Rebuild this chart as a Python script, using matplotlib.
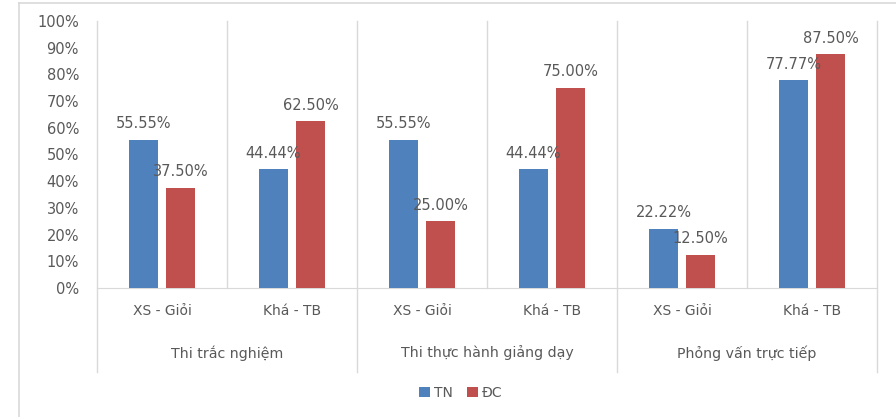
import matplotlib
matplotlib.use("Agg")
import matplotlib.pyplot as plt
from matplotlib.transforms import blended_transform_factory
import numpy as np

groups = ["Thi trắc nghiệm", "Thi thực hành giảng dạy", "Phỏng vấn trực tiếp"]
categories = ["XS - Giỏi", "Khá - TB", "XS - Giỏi", "Khá - TB", "XS - Giỏi", "Khá - TB"]
tn = [55.55, 44.44, 55.55, 44.44, 22.22, 77.77]
dc = [37.50, 62.50, 25.00, 75.00, 12.50, 87.50]
series_names = ["TN", "ĐC"]
yticks = [0, 10, 20, 30, 40, 50, 60, 70, 80, 90, 100]

BLUE = "#4F81BD"
RED = "#C0504D"
TXT = "#595959"
GRID = "#D9D9D9"

plt.rcParams['font.family'] = ['DejaVu Sans']

fig = plt.figure(figsize=(8.96, 4.17), dpi=100)
W, H = 896, 417
x0, x1, ytop, ybot = 97, 877, 21, 288
ax = fig.add_axes([x0 / W, 1 - ybot / H, (x1 - x0) / W, (ybot - ytop) / H])

n = len(categories)
x = np.arange(n)
bw = 0.225
off = 0.142
b1 = ax.bar(x - off, tn, bw, color=BLUE, label=series_names[0], zorder=3)
b2 = ax.bar(x + off, dc, bw, color=RED, label=series_names[1], zorder=3)

for xi, v in zip(x - off, tn):
    ax.text(xi, v + 6, f"{v:.2f}%", ha="center", va="center", fontsize=10.5, color=TXT)
for xi, v in zip(x + off, dc):
    ax.text(xi, v + 6, f"{v:.2f}%", ha="center", va="center", fontsize=10.5, color=TXT)

ax.set_xlim(-0.5, n - 0.5)
ax.set_ylim(0, 100)
ax.set_yticks(yticks)
ax.set_yticklabels([f"{t}%" for t in yticks], fontsize=10.5, color=TXT)
ax.tick_params(axis="y", length=0, pad=13)
ax.tick_params(axis="x", length=0)
ax.set_xticks([])
for s in ["top", "right", "left"]:
    ax.spines[s].set_visible(False)
ax.spines["bottom"].set_color(GRID)

trans = blended_transform_factory(ax.transData, ax.transAxes)
ext = -(372 - 288) / (288 - 21)
for b in range(n + 1):
    xb = b - 0.5
    bottom = ext if b % 2 == 0 else 0
    ax.plot([xb, xb], [bottom, 1], transform=trans, color=GRID, lw=1, clip_on=False, zorder=1)

y_cat = -(311 - 288) / (288 - 21)
y_grp = -(353 - 288) / (288 - 21)
for i, c in enumerate(categories):
    ax.text(i, y_cat, c, transform=trans, ha="center", va="center", fontsize=10, color=TXT)
for g, name in enumerate(groups):
    ax.text(2 * g + 0.5, y_grp, name, transform=trans, ha="center", va="center", fontsize=10.2, color=TXT)

leg = fig.legend(handles=[b1, b2], labels=series_names, loc="center", bbox_to_anchor=(461 / W, 1 - 393 / H),
                 ncol=2, frameon=False, fontsize=10, handlelength=0.8, handleheight=0.8,
                 handletextpad=0.3, columnspacing=1.0)
for t in leg.get_texts():
    t.set_color(TXT)

# outer chart border (top and left visible)
fig.add_artist(plt.Line2D([19 / W, 1], [1 - 3 / H, 1 - 3 / H], transform=fig.transFigure, color=GRID, lw=1.2))
fig.add_artist(plt.Line2D([19 / W, 19 / W], [0, 1 - 3 / H], transform=fig.transFigure, color=GRID, lw=1.2))

fig.savefig("out.png", dpi=100)
